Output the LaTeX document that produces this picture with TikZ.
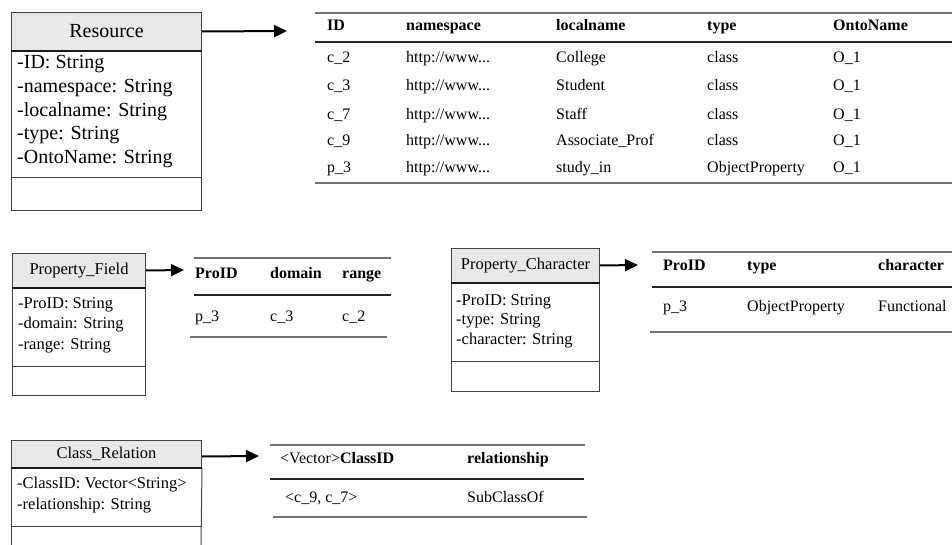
\documentclass[tikz,border=0pt]{standalone}
\usepackage{fontspec}
\setmainfont{Liberation Serif}
\usepackage{tikz}
\usetikzlibrary{arrows.meta}
\tikzset{
    clshead/.style={draw=black!75,fill=black!9,line width=1pt,inner sep=0pt,anchor=north west},
    box/.style={draw=black!75,line width=1pt},
    sepline/.style={draw=black!90,line width=1.2pt},
    attr/.style={anchor=west,inner sep=0pt,text height=0.7em,text depth=0.22em},
    cell/.style={anchor=west,inner sep=0pt,text height=0.7em,text depth=0.22em,font=\fontsize{16}{19}\selectfont},
    hcell/.style={cell,font=\bfseries\fontsize{16}{19}\selectfont},
    outerrule/.style={draw=black!55,line width=1.5pt},
    midrule/.style={draw=black!85,line width=1.2pt},
    arr/.style={line width=2pt,-{Triangle[length=13pt,width=12pt]}}
}

\begin{document}
\begin{tikzpicture}[x=1pt,y=-1pt]
                            \useasboundingbox (0,0) rectangle (952,545);
                            % Resource class and its table
                            \node[clshead,minimum width=190pt,minimum height=38pt,font=\fontsize{20}{24}\selectfont] (resource) at (11,12) {Resource};
                            \draw[box] (resource.south west) rectangle (201,211);
                            \draw[sepline] (resource.south west) -- (resource.south east);
                            \draw[box] (11,178) -- (201,178);
                            \foreach \y/\a [count=\i] in {66/-ID: String, 90/-namespace: String, 114/-localname: String, 137/-type: String, 161/-OntoName: String}
                                \node[attr,font=\fontsize{20}{24}\selectfont] (resattr\i) at (17,\y) {\a};
                            \coordinate (restab) at (287,31);
                            \draw[arr] (resource.east) -- (restab);
                            \draw[outerrule] (315,13) -- (952,13);
                            \draw[midrule] (315,42) -- (952,42);
                            \draw[outerrule] (315,183) -- (952,183);
                            \foreach \x/\h [count=\j] in {327/ID, 406/namespace, 556/localname, 707/type, 833/OntoName}
                                \node[hcell] (reshead\j) at (\x,28) {\h};
                            \foreach \y/\id/\loc/\ty [count=\i] in {60/c\_2/College/class, 88/c\_3/Student/class, 117/c\_7/Staff/class, 143/c\_9/Associate\_Prof/class, 170/p\_3/study\_in/ObjectProperty} {
                                \node[cell] (resid\i) at (327,\y) {\id};
                                \node[cell] (resns\i) at (406,\y) {http://www...};
                                \node[cell] (resloc\i) at (556,\y) {\loc};
                                \node[cell] (restype\i) at (707,\y) {\ty};
                                \node[cell] (resonto\i) at (833,\y) {O\_1};
                            }
                            % Property_Field class and its table
                            \node[clshead,minimum width=133pt,minimum height=34pt,font=\fontsize{16.5}{20}\selectfont] (propfield) at (12,253) {Property\_Field};
                            \draw[box] (propfield.south west) rectangle (145,395);
                            \draw[sepline] (propfield.south west) -- (propfield.south east);
                            \draw[box] (12,366) -- (145,366);
                            \foreach \y/\a [count=\i] in {306/-ProID: String, 326/-domain: String, 347/-range: String}
                                \node[attr,font=\fontsize{16.5}{20}\selectfont] (pfattr\i) at (18,\y) {\a};
                            \coordinate (pftab) at (184,270);
                            \draw[arr] (propfield.east) -- (pftab);
                            \draw[outerrule] (194,258) -- (391,258);
                            \draw[midrule] (194,295) -- (391,295);
                            \draw[outerrule] (190,337) -- (387,337);
                            \foreach \x/\h/\v [count=\j] in {195/ProID/p\_3, 270/domain/c\_3, 342/range/c\_2} {
                                \node[hcell] (pfhead\j) at (\x,276) {\h};
                                \node[cell] (pfval\j) at (\x,319) {\v};
                            }
                            % Property_Character class and its table
                            \node[clshead,minimum width=148pt,minimum height=34pt,font=\fontsize{16.5}{20}\selectfont] (propchar) at (451,248) {Property\_Character};
                            \draw[box] (propchar.south west) rectangle (599,391);
                            \draw[sepline] (propchar.south west) -- (propchar.south east);
                            \draw[box] (451,361) -- (599,361);
                            \foreach \y/\a [count=\i] in {303/-ProID: String, 322/-type: String, 342/-character: String}
                                \node[attr,font=\fontsize{16.5}{20}\selectfont] (pcattr\i) at (456,\y) {\a};
                            \coordinate (pctab) at (638,265);
                            \draw[arr] (propchar.east) -- (pctab);
                            \draw[outerrule] (652,252) -- (952,252);
                            \draw[midrule] (652,287) -- (952,287);
                            \draw[outerrule] (650,332) -- (952,332);
                            \foreach \x/\h/\v [count=\j] in {663/ProID/p\_3, 747/type/ObjectProperty, 878/character/Functional} {
                                \node[hcell] (pchead\j) at (\x,268) {\h};
                                \node[cell] (pcval\j) at (\x,309) {\v};
                            }
                            % Class_Relation class and its table
                            \node[clshead,minimum width=190pt,minimum height=27pt,font=\fontsize{16.5}{20}\selectfont] (classrel) at (11,440) {Class\_Relation};
                            \draw[box] (classrel.south west) -- (11,546);
                            \draw[box] (classrel.south east) -- (201,546);
                            \draw[sepline] (classrel.south west) -- (classrel.south east);
                            \draw[box] (11,526) -- (201,526);
                            \foreach \y/\a [count=\i] in {486/-ClassID: Vector<String>, 507/-relationship: String}
                                \node[attr,font=\fontsize{16.5}{20}\selectfont] (crattr\i) at (17,\y) {\a};
                            \coordinate (crtab) at (259,456);
                            \draw[arr] ([yshift=-2.5pt]classrel.east) -- (crtab);
                            \draw[outerrule] (270,445) -- (585,445);
                            \draw[midrule] (270,479) -- (584,479);
                            \draw[outerrule] (273,517) -- (587,517);
                            \node[cell] (crhead1) at (280,461) {<Vector>\textbf{ClassID}};
                            \node[hcell] (crhead2) at (467,461) {relationship};
                            \node[cell] (crval1) at (285,500) {<c\_9, c\_7>};
                            \node[cell] (crval2) at (467,500) {SubClassOf};
                        \end{tikzpicture}
\end{document}
